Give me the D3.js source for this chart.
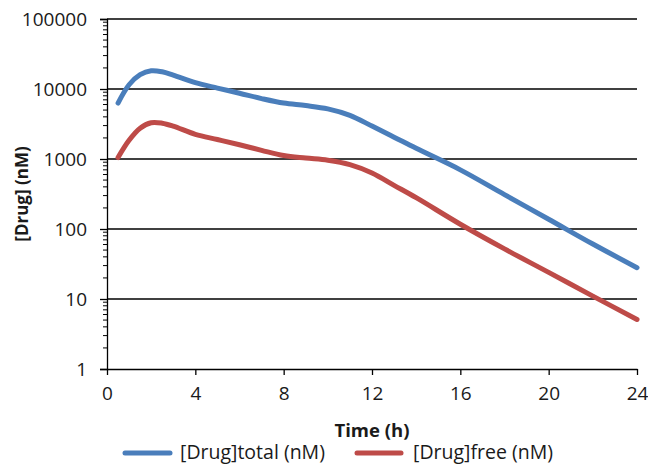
<!DOCTYPE html>
<html>
<head>
<meta charset="utf-8">
<script src="https://cdn.jsdelivr.net/npm/d3@7"></script>
<style>
  html, body { margin: 0; padding: 0; background: #fff; }
  svg { display: block; font-family: "Open Sans", "Liberation Sans", sans-serif; }
</style>
</head>
<body>
<svg id="chart" width="648" height="465"></svg>
<script>
// Time points (h)
const times = [0.5, 1, 1.5, 2, 2.5, 3, 4, 5, 6, 7, 8, 9, 10, 11, 12, 13, 14, 16, 18, 20, 22, 24];
// [Drug]total (nM)
const totalConc = [6300, 11500, 16000, 18200, 17600, 15800, 12300, 10300, 8700, 7300, 6300, 5800, 5200, 4200, 2950, 2050, 1420, 700, 310, 138, 61, 28];
// [Drug]free (nM)
const freeConc = [1050, 1850, 2750, 3300, 3250, 2950, 2250, 1900, 1600, 1330, 1120, 1030, 960, 830, 630, 420, 280, 117, 52, 24, 11, 5.1];

const xTicks = [0, 4, 8, 12, 16, 20, 24];
const yTicks = [1, 10, 100, 1000, 10000, 100000];
const seriesNames = ["[Drug]total (nM)", "[Drug]free (nM)"];
const seriesColors = ["#4a7ebb", "#be4b48"];

const svg = d3.select("#chart");
const plotLeft = 107, plotRight = 637, plotTop = 19, plotBottom = 369;

const x = d3.scaleLinear().domain([0, 24]).range([plotLeft, plotRight]);
const y = d3.scaleLog().domain([1, 100000]).range([plotBottom, plotTop]);

// Horizontal gridlines at each decade
svg.append("g")
  .selectAll("line")
  .data(yTicks.slice(1))
  .join("line")
  .attr("x1", plotLeft).attr("x2", plotRight)
  .attr("y1", d => y(d)).attr("y2", d => y(d))
  .attr("stroke", "#000").attr("stroke-width", 1.3);

// Minor log ticks on the y axis
const minor = [];
for (let e = 0; e < 5; e++) for (let m = 2; m <= 9; m++) minor.push(m * Math.pow(10, e));
svg.append("g")
  .selectAll("line")
  .data(minor)
  .join("line")
  .attr("x1", plotLeft - 4).attr("x2", plotLeft)
  .attr("y1", d => y(d)).attr("y2", d => y(d))
  .attr("stroke", "#000").attr("stroke-width", 1);

// Y axis
const yAxis = svg.append("g")
  .attr("transform", `translate(${plotLeft},0)`)
  .call(d3.axisLeft(y).tickValues(yTicks).tickFormat(d3.format("d")).tickSize(7).tickPadding(13));
yAxis.select(".domain").attr("stroke", "#000").attr("stroke-width", 1.3);
yAxis.selectAll(".tick line").attr("stroke", "#000").attr("stroke-width", 1.3);
yAxis.selectAll("text").attr("font-size", 19).attr("fill", "#1a1a1a").attr("font-family", "Open Sans");

// X axis
const xAxis = svg.append("g")
  .attr("transform", `translate(0,${plotBottom})`)
  .call(d3.axisBottom(x).tickValues(xTicks).tickSize(6).tickPadding(12).tickSizeOuter(0));
xAxis.select(".domain").attr("stroke", "#000").attr("stroke-width", 1.3);
xAxis.selectAll(".tick line").attr("stroke", "#000").attr("stroke-width", 1.3);
xAxis.selectAll("text").attr("font-size", 19).attr("fill", "#1a1a1a").attr("font-family", "Open Sans");

// Data lines
const line = d3.line()
  .x(d => x(d[0]))
  .y(d => y(d[1]))
  .curve(d3.curveCatmullRom.alpha(0.5));

[totalConc, freeConc].forEach((vals, i) => {
  svg.append("path")
    .datum(times.map((t, k) => [t, vals[k]]))
    .attr("d", line)
    .attr("fill", "none")
    .attr("stroke", seriesColors[i])
    .attr("stroke-width", 5)
    .attr("stroke-linecap", "round")
    .attr("stroke-linejoin", "round");
});

// Axis titles
svg.append("text")
  .attr("transform", `translate(28,${(plotTop + plotBottom) / 2}) rotate(-90)`)
  .attr("text-anchor", "middle")
  .attr("font-size", 17).attr("font-weight", "bold").attr("fill", "#1a1a1a")
  .text("[Drug] (nM)");

svg.append("text")
  .attr("x", (plotLeft + plotRight) / 2).attr("y", 437)
  .attr("text-anchor", "middle")
  .attr("font-size", 18.5).attr("font-weight", "bold").attr("fill", "#1a1a1a")
  .text("Time (h)");

// Legend
const legendItems = [
  { x1: 125, x2: 170, tx: 180 },
  { x1: 357, x2: 401, tx: 413 }
];
legendItems.forEach((it, i) => {
  svg.append("line")
    .attr("x1", it.x1).attr("x2", it.x2)
    .attr("y1", 453).attr("y2", 453)
    .attr("stroke", seriesColors[i]).attr("stroke-width", 5)
    .attr("stroke-linecap", "round");
  svg.append("text")
    .attr("x", it.tx).attr("y", 459)
    .attr("font-size", 19.5).attr("fill", "#1a1a1a")
    .text(seriesNames[i]);
});
</script>
</body>
</html>
